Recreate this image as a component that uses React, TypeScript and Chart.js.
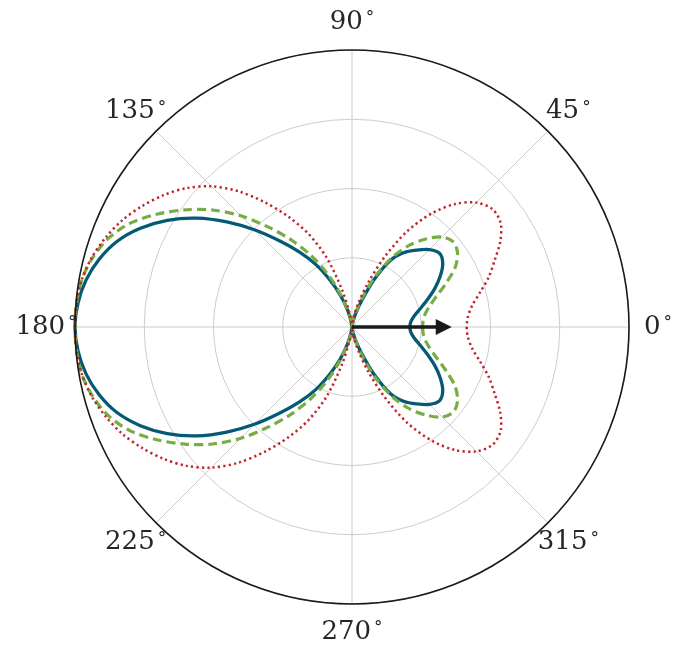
import React, { useEffect, useRef } from "react";
import { Chart, registerables } from "chart.js";

Chart.register(...registerables);

// Polar angle of each sample, degrees, counter-clockwise from east
const ANGLES_DEG = [
  0, 5, 10, 15, 20, 25, 30, 35, 40, 45, 50, 55, 60, 65, 70, 75, 80, 85,
  90, 95, 100, 105, 110, 115, 120, 125, 130, 135, 140, 145, 150, 155, 160, 165, 170, 175,
  180, 185, 190, 195, 200, 205, 210, 215, 220, 225, 230, 235, 240, 245, 250, 255, 260, 265,
  270, 275, 280, 285, 290, 295, 300, 305, 310, 315, 320, 325, 330, 335, 340, 345, 350, 355,
];

// Solid blue curve
const BLUE_R = [
  0.209, 0.213, 0.228, 0.255, 0.29, 0.33, 0.368, 0.4, 0.413, 0.395, 0.362, 0.328, 0.278, 0.188, 0.1, 0.05, 0.02, 0.005,
  0, 0.006, 0.025, 0.065, 0.12, 0.185, 0.26, 0.33, 0.405, 0.495, 0.59, 0.685, 0.77, 0.843, 0.903, 0.945, 0.975, 0.993,
  1, 0.993, 0.975, 0.945, 0.903, 0.843, 0.77, 0.685, 0.59, 0.495, 0.405, 0.33, 0.26, 0.185, 0.12, 0.065, 0.025, 0.006,
  0, 0.005, 0.02, 0.05, 0.1, 0.188, 0.278, 0.328, 0.362, 0.395, 0.413, 0.4, 0.368, 0.33, 0.29, 0.255, 0.228, 0.213,
];

// Dashed green curve
const GREEN_R = [
  0.255, 0.258, 0.268, 0.29, 0.325, 0.375, 0.43, 0.465, 0.478, 0.46, 0.415, 0.36, 0.29, 0.205, 0.12, 0.06, 0.025, 0.006,
  0, 0.007, 0.03, 0.07, 0.135, 0.215, 0.3, 0.385, 0.472, 0.568, 0.657, 0.737, 0.814, 0.885, 0.936, 0.969, 0.99, 0.998,
  1, 0.998, 0.99, 0.969, 0.936, 0.885, 0.814, 0.737, 0.657, 0.568, 0.472, 0.385, 0.3, 0.215, 0.135, 0.07, 0.03, 0.007,
  0, 0.006, 0.025, 0.06, 0.12, 0.205, 0.29, 0.36, 0.415, 0.46, 0.478, 0.465, 0.43, 0.375, 0.325, 0.29, 0.268, 0.258,
];

// Dotted red curve
const RED_R = [
  0.414, 0.42, 0.44, 0.478, 0.525, 0.568, 0.618, 0.655, 0.662, 0.635, 0.58, 0.5, 0.4, 0.28, 0.17, 0.09, 0.04, 0.01,
  0, 0.012, 0.05, 0.14, 0.265, 0.37, 0.46, 0.55, 0.64, 0.718, 0.78, 0.83, 0.874, 0.914, 0.946, 0.972, 0.99, 0.998,
  1, 0.998, 0.99, 0.972, 0.946, 0.914, 0.874, 0.83, 0.78, 0.718, 0.64, 0.55, 0.46, 0.37, 0.265, 0.14, 0.05, 0.012,
  0, 0.01, 0.04, 0.09, 0.17, 0.28, 0.4, 0.5, 0.58, 0.635, 0.662, 0.655, 0.618, 0.568, 0.525, 0.478, 0.44, 0.42,
];

const ANGLE_TICKS = [0, 45, 90, 135, 180, 225, 270, 315];
const R_MIN = 0;
const R_MAX = 1;
const R_STEP = 0.25;
const ARROW_LENGTH = 0.36;

// Radar scales go clockwise; reorder so index i sits at polar angle -i*step.
const n = ANGLES_DEG.length;
const radarOrder = <T,>(arr: T[]): T[] => arr.map((_, i) => arr[(n - i) % n]);

const overlayPlugin = {
  id: "polarOverlay",
  afterDatasetsDraw(chart: any) {
    const s = chart.scales.r;
    const ctx: CanvasRenderingContext2D = chart.ctx;
    const cx = s.xCenter;
    const cy = s.yCenter;
    const R = s.drawingArea;
    ctx.save();
    // arrow
    const len = s.getDistanceFromCenterForValue(ARROW_LENGTH);
    const headLen = 16;
    const headHalf = 8;
    ctx.strokeStyle = "#1a1a1a";
    ctx.fillStyle = "#1a1a1a";
    ctx.lineWidth = 3.6;
    ctx.beginPath();
    ctx.moveTo(cx, cy);
    ctx.lineTo(cx + len - headLen + 1, cy);
    ctx.stroke();
    ctx.beginPath();
    ctx.moveTo(cx + len, cy);
    ctx.lineTo(cx + len - headLen, cy - headHalf);
    ctx.lineTo(cx + len - headLen, cy + headHalf);
    ctx.closePath();
    ctx.fill();
    // outer spine
    ctx.beginPath();
    ctx.arc(cx, cy, R, 0, Math.PI * 2);
    ctx.lineWidth = 1.6;
    ctx.strokeStyle = "#1a1a1a";
    ctx.stroke();
    // angle labels
    ctx.fillStyle = "#262626";
    ctx.textBaseline = "middle";
    ctx.textAlign = "left";
    const digitFont = "26px 'DejaVu Serif'";
    const degFont = "17px 'DejaVu Serif'";
    for (const a of ANGLE_TICKS) {
      const rad = (a * Math.PI) / 180;
      const x = cx + (R + 29) * Math.cos(rad);
      const y = cy - (R + 28) * Math.sin(rad);
      const txt = String(a);
      ctx.font = digitFont;
      const w1 = ctx.measureText(txt).width;
      ctx.font = degFont;
      const w2 = ctx.measureText("°").width;
      const gap = 3;
      const x0 = x - (w1 + gap + w2) / 2;
      ctx.font = digitFont;
      ctx.fillText(txt, x0, y);
      ctx.font = degFont;
      ctx.fillText("°", x0 + w1 + gap, y - 4);
    }
    ctx.restore();
  },
};

export default function App() {
  const canvasRef = useRef<HTMLCanvasElement | null>(null);

  useEffect(() => {
    if (!canvasRef.current) return;
    const ordered = radarOrder(ANGLES_DEG);
    const labels = ordered.map((d) => String(d));
    const chart = new Chart(canvasRef.current, {
      type: "radar",
      data: {
        labels,
        datasets: [
          {
            label: "blue",
            data: radarOrder(BLUE_R),
            borderColor: "#045a75",
            borderWidth: 3.3,
            fill: false,
            pointRadius: 0,
            tension: 0.3,
            order: 3,
          },
          {
            label: "green",
            data: radarOrder(GREEN_R),
            borderColor: "#77ad44",
            borderWidth: 3.2,
            borderDash: [9, 5],
            fill: false,
            pointRadius: 0,
            tension: 0.3,
            order: 2,
          },
          {
            label: "red",
            data: radarOrder(RED_R),
            borderColor: "#c0232c",
            borderWidth: 2.5,
            borderDash: [2.2, 3.2],
            fill: false,
            pointRadius: 0,
            tension: 0.3,
            order: 1,
          },
        ],
      },
      options: {
        responsive: false,
        devicePixelRatio: 1,
        animation: false,
        layout: { padding: { left: 75, top: 50, right: 56, bottom: 41 } },
        plugins: { legend: { display: false }, tooltip: { enabled: false } },
        scales: {
          r: {
            min: R_MIN,
            max: R_MAX,
            startAngle: 90,
            ticks: { display: false, stepSize: R_STEP },
            grid: { circular: true, color: "#cccccc", lineWidth: 1 },
            angleLines: {
              display: true,
              lineWidth: 1,
              color: (c: any) =>
                ANGLE_TICKS.includes(Number(ordered[c.index])) ? "#cccccc" : "rgba(0,0,0,0)",
            },
            pointLabels: { display: false },
          },
        },
      },
      plugins: [overlayPlugin],
    });
    return () => chart.destroy();
  }, []);

  return (
    <div style={{ position: "fixed", left: 0, top: 0, width: 685, height: 645, background: "#fff" }}>
      <canvas ref={canvasRef} width={685} height={645} style={{ display: "block" }} />
    </div>
  );
}
